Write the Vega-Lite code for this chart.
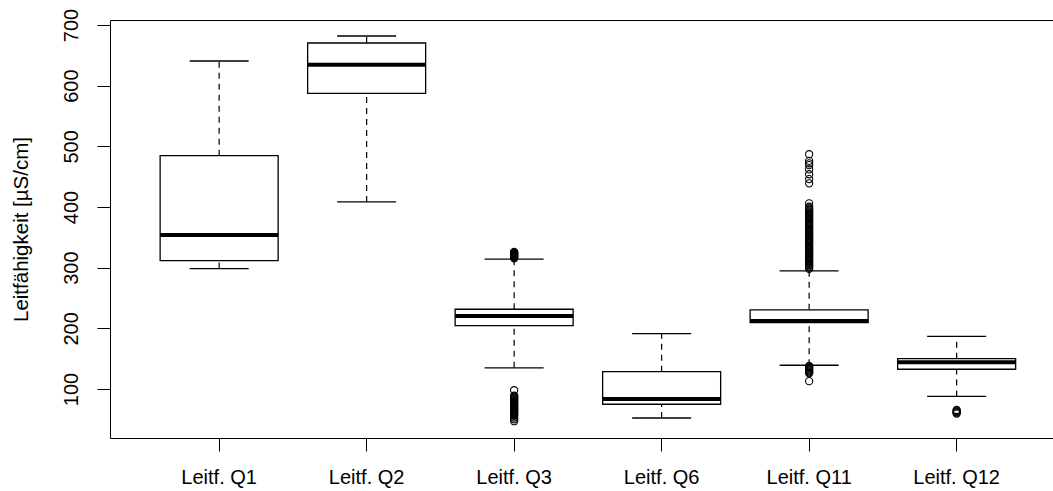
{
  "$schema": "https://vega.github.io/schema/vega-lite/v6.json",
  "width": 943,
  "height": 418,
  "autosize": {"type": "none"},
  "padding": {"left": 110, "top": 20, "right": 0, "bottom": 53},
  "background": "white",
  "config": {
    "view": {"stroke": null},
    "font": "Liberation Sans",
    "axis": {
      "grid": false,
      "labelFont": "Liberation Sans",
      "titleFont": "Liberation Sans",
      "labelColor": "black",
      "titleColor": "black",
      "domainColor": "black",
      "tickColor": "black",
      "domainWidth": 1,
      "tickWidth": 1,
      "labelFontSize": 20,
      "titleFontSize": 20.5,
      "titleFontWeight": "normal"
    },
    "axisY": {
      "tickSize": 13,
      "labelAngle": 270,
      "labelAlign": "center",
      "labelBaseline": "alphabetic",
      "labelPadding": 20,
      "labelFlush": false,
      "labelOverlap": false
    },
    "axisBottom": {
      "tickSize": 13,
      "labelAngle": 0,
      "labelAlign": "center",
      "labelBaseline": "top",
      "labelPadding": 16,
      "bandPosition": 0.5
    },
    "axisTop": {
      "labels": false,
      "ticks": false,
      "domain": true
    }
  },
  "datasets": {
    "stats": [
      {"name": "Leitf. Q1", "lower": 298.5, "q1": 311.5, "median": 354, "q3": 484.6, "upper": 640.6},
      {"name": "Leitf. Q2", "lower": 408.4, "q1": 587.4, "median": 634.6, "q3": 670.3, "upper": 681.8},
      {"name": "Leitf. Q3", "lower": 135, "q1": 204.6, "median": 220.3, "q3": 231.5, "upper": 314},
      {"name": "Leitf. Q6", "lower": 52.3, "q1": 74.9, "median": 83.6, "q3": 128.6, "upper": 191.2},
      {"name": "Leitf. Q11", "lower": 139.2, "q1": 209.5, "median": 212, "q3": 230.6, "upper": 294.8},
      {"name": "Leitf. Q12", "lower": 87.9, "q1": 132.6, "median": 144.2, "q3": 150, "upper": 186.7}
    ],
    "outliers": [
      {"name": "Leitf. Q3", "value": 315.5}, {"name": "Leitf. Q3", "value": 317}, {"name": "Leitf. Q3", "value": 318},
      {"name": "Leitf. Q3", "value": 319}, {"name": "Leitf. Q3", "value": 320}, {"name": "Leitf. Q3", "value": 321},
      {"name": "Leitf. Q3", "value": 322}, {"name": "Leitf. Q3", "value": 323}, {"name": "Leitf. Q3", "value": 324},
      {"name": "Leitf. Q3", "value": 325}, {"name": "Leitf. Q3", "value": 326},
      {"name": "Leitf. Q3", "value": 98}, {"name": "Leitf. Q3", "value": 89}, {"name": "Leitf. Q3", "value": 87.5},
      {"name": "Leitf. Q3", "value": 86}, {"name": "Leitf. Q3", "value": 84.5}, {"name": "Leitf. Q3", "value": 83},
      {"name": "Leitf. Q3", "value": 81.5}, {"name": "Leitf. Q3", "value": 80}, {"name": "Leitf. Q3", "value": 78.5},
      {"name": "Leitf. Q3", "value": 77}, {"name": "Leitf. Q3", "value": 75.5}, {"name": "Leitf. Q3", "value": 74},
      {"name": "Leitf. Q3", "value": 72.5}, {"name": "Leitf. Q3", "value": 71}, {"name": "Leitf. Q3", "value": 69.5},
      {"name": "Leitf. Q3", "value": 68}, {"name": "Leitf. Q3", "value": 66.5}, {"name": "Leitf. Q3", "value": 65},
      {"name": "Leitf. Q3", "value": 63.5}, {"name": "Leitf. Q3", "value": 62}, {"name": "Leitf. Q3", "value": 60.5},
      {"name": "Leitf. Q3", "value": 59}, {"name": "Leitf. Q3", "value": 57.5}, {"name": "Leitf. Q3", "value": 56},
      {"name": "Leitf. Q3", "value": 53}, {"name": "Leitf. Q3", "value": 50}, {"name": "Leitf. Q3", "value": 47},
      {"name": "Leitf. Q11", "value": 487}, {"name": "Leitf. Q11", "value": 476}, {"name": "Leitf. Q11", "value": 472},
      {"name": "Leitf. Q11", "value": 469}, {"name": "Leitf. Q11", "value": 462}, {"name": "Leitf. Q11", "value": 454},
      {"name": "Leitf. Q11", "value": 446}, {"name": "Leitf. Q11", "value": 439}, {"name": "Leitf. Q11", "value": 406},
      {"name": "Leitf. Q11", "value": 400.5},
      {"name": "Leitf. Q11", "value": 398}, {"name": "Leitf. Q11", "value": 396}, {"name": "Leitf. Q11", "value": 394},
      {"name": "Leitf. Q11", "value": 392}, {"name": "Leitf. Q11", "value": 390}, {"name": "Leitf. Q11", "value": 388},
      {"name": "Leitf. Q11", "value": 386}, {"name": "Leitf. Q11", "value": 384}, {"name": "Leitf. Q11", "value": 382},
      {"name": "Leitf. Q11", "value": 380}, {"name": "Leitf. Q11", "value": 378}, {"name": "Leitf. Q11", "value": 376},
      {"name": "Leitf. Q11", "value": 374}, {"name": "Leitf. Q11", "value": 372}, {"name": "Leitf. Q11", "value": 370},
      {"name": "Leitf. Q11", "value": 368}, {"name": "Leitf. Q11", "value": 366}, {"name": "Leitf. Q11", "value": 364},
      {"name": "Leitf. Q11", "value": 362}, {"name": "Leitf. Q11", "value": 360}, {"name": "Leitf. Q11", "value": 358},
      {"name": "Leitf. Q11", "value": 356}, {"name": "Leitf. Q11", "value": 354}, {"name": "Leitf. Q11", "value": 352},
      {"name": "Leitf. Q11", "value": 350}, {"name": "Leitf. Q11", "value": 348}, {"name": "Leitf. Q11", "value": 346},
      {"name": "Leitf. Q11", "value": 344}, {"name": "Leitf. Q11", "value": 342}, {"name": "Leitf. Q11", "value": 340},
      {"name": "Leitf. Q11", "value": 338}, {"name": "Leitf. Q11", "value": 336}, {"name": "Leitf. Q11", "value": 334},
      {"name": "Leitf. Q11", "value": 332}, {"name": "Leitf. Q11", "value": 330}, {"name": "Leitf. Q11", "value": 328},
      {"name": "Leitf. Q11", "value": 326}, {"name": "Leitf. Q11", "value": 324}, {"name": "Leitf. Q11", "value": 322},
      {"name": "Leitf. Q11", "value": 320}, {"name": "Leitf. Q11", "value": 318}, {"name": "Leitf. Q11", "value": 316},
      {"name": "Leitf. Q11", "value": 314}, {"name": "Leitf. Q11", "value": 312}, {"name": "Leitf. Q11", "value": 310},
      {"name": "Leitf. Q11", "value": 308}, {"name": "Leitf. Q11", "value": 306}, {"name": "Leitf. Q11", "value": 304},
      {"name": "Leitf. Q11", "value": 302}, {"name": "Leitf. Q11", "value": 300}, {"name": "Leitf. Q11", "value": 298},
      {"name": "Leitf. Q11", "value": 138}, {"name": "Leitf. Q11", "value": 136.5}, {"name": "Leitf. Q11", "value": 135},
      {"name": "Leitf. Q11", "value": 133.5}, {"name": "Leitf. Q11", "value": 132}, {"name": "Leitf. Q11", "value": 130.5},
      {"name": "Leitf. Q11", "value": 129}, {"name": "Leitf. Q11", "value": 127.5}, {"name": "Leitf. Q11", "value": 126},
      {"name": "Leitf. Q11", "value": 113},
      {"name": "Leitf. Q12", "value": 59.5}, {"name": "Leitf. Q12", "value": 61}, {"name": "Leitf. Q12", "value": 62.5},
      {"name": "Leitf. Q12", "value": 64}, {"name": "Leitf. Q12", "value": 65.5}
    ]
  },
  "resolve": {"axis": {"x": "independent"}},
  "layer": [
    {
      "data": {"name": "stats"},
      "mark": {"type": "rule", "color": "black", "strokeWidth": 1.2, "strokeDash": [6, 5]},
      "encoding": {
        "x": {
          "field": "name", "type": "nominal",
          "sort": ["Leitf. Q1", "Leitf. Q2", "Leitf. Q3", "Leitf. Q6", "Leitf. Q11", "Leitf. Q12"],
          "scale": {
            "domain": ["Leitf. Q1", "Leitf. Q2", "Leitf. Q3", "Leitf. Q6", "Leitf. Q11", "Leitf. Q12"],
            "paddingInner": 0.2, "paddingOuter": 0.2966, "align": 0.573
          },
          "axis": {"orient": "bottom", "title": null}
        },
        "y": {
          "field": "q3", "type": "quantitative",
          "scale": {"domain": [19.3, 708.2], "nice": false, "zero": false},
          "title": "Leitfähigkeit [µS/cm]",
          "axis": {
            "values": [100, 200, 300, 400, 500, 600, 700],
            "titleAngle": 270, "titleAlign": "center", "titleBaseline": "alphabetic",
            "titleX": -82.5, "titleY": 209
          }
        },
        "y2": {"field": "upper"}
      }
    },
    {
      "data": {"name": "stats"},
      "mark": {"type": "rule", "color": "black", "strokeWidth": 1.2, "strokeDash": [6, 5]},
      "encoding": {
        "x": {"field": "name", "type": "nominal", "axis": {"orient": "top", "title": null}},
        "y": {"field": "lower", "type": "quantitative", "title": "Leitfähigkeit [µS/cm]"},
        "y2": {"field": "q1"}
      }
    },
    {
      "data": {"name": "stats"},
      "mark": {"type": "bar", "fill": "white", "stroke": "black", "strokeWidth": 1.3, "opacity": 1},
      "encoding": {
        "x": {"field": "name", "type": "nominal", "axis": null},
        "y": {"field": "q1", "type": "quantitative", "title": "Leitfähigkeit [µS/cm]"},
        "y2": {"field": "q3"}
      }
    },
    {
      "data": {"name": "stats"},
      "mark": {"type": "tick", "color": "black", "size": 118, "thickness": 4, "opacity": 1},
      "encoding": {
        "x": {"field": "name", "type": "nominal", "axis": null},
        "y": {"field": "median", "type": "quantitative", "title": "Leitfähigkeit [µS/cm]"}
      }
    },
    {
      "data": {"name": "stats"},
      "mark": {"type": "tick", "color": "black", "size": 59, "thickness": 1.3, "opacity": 1},
      "encoding": {
        "x": {"field": "name", "type": "nominal", "axis": null},
        "y": {"field": "upper", "type": "quantitative", "title": "Leitfähigkeit [µS/cm]"}
      }
    },
    {
      "data": {"name": "stats"},
      "mark": {"type": "tick", "color": "black", "size": 59, "thickness": 1.3, "opacity": 1},
      "encoding": {
        "x": {"field": "name", "type": "nominal", "axis": null},
        "y": {"field": "lower", "type": "quantitative", "title": "Leitfähigkeit [µS/cm]"}
      }
    },
    {
      "data": {"name": "outliers"},
      "mark": {"type": "point", "shape": "circle", "filled": false, "stroke": "black", "strokeWidth": 1.1, "size": 52, "opacity": 1},
      "encoding": {
        "x": {"field": "name", "type": "nominal", "axis": null},
        "y": {"field": "value", "type": "quantitative", "title": "Leitfähigkeit [µS/cm]"}
      }
    }
  ]
}
